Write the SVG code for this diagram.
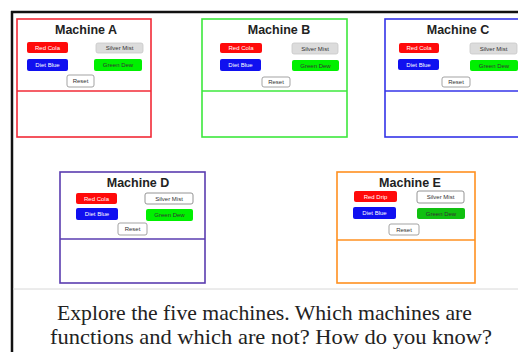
<svg xmlns="http://www.w3.org/2000/svg" width="518" height="352" viewBox="0 0 518 352">
<style>
.frame{fill:none;stroke-width:1.6}
.title{font-family:"Liberation Sans",Arial,sans-serif;font-weight:bold;font-size:12.5px;fill:#222;text-anchor:middle}
.bt{font-family:"Liberation Sans",Arial,sans-serif;font-size:6px;text-anchor:middle;dominant-baseline:central}
.w{fill:#fff}
.d{fill:#333}
.red{fill:#ff0a0a}
.blue{fill:#1010f0}
.green{fill:#00f000}
.dgreen{fill:#10c010}
.silver{fill:#dcdcdc;stroke:#c8c8c8;stroke-width:0.8}
.silverw{fill:#fff;stroke:#888;stroke-width:0.9}
.reset{fill:#fff;stroke:#999;stroke-width:0.9}
.caption{font-family:"Liberation Serif","Times New Roman",serif;font-size:21.5px;fill:#222}
</style>
<rect x="0" y="0" width="518" height="352" fill="#fff"/>
<line x1="11" y1="12" x2="518" y2="12" stroke="#111" stroke-width="2.5"/>
<line x1="12" y1="11" x2="12" y2="352" stroke="#111" stroke-width="2.5"/>
<line x1="13" y1="289" x2="518" y2="289" stroke="#d8d8d8" stroke-width="1"/>

<g id="machineA">
<rect class="frame" x="17" y="19" width="134" height="118" stroke="#f22a36"/>
<line x1="17" y1="91" x2="151" y2="91" stroke="#f22a36" stroke-width="1.6"/>
<text class="title" x="86" y="34">Machine A</text>
<rect class="red" x="27" y="42" width="41" height="11" rx="2"/><text class="bt w" x="47.5" y="47.5">Red Cola</text>
<rect class="blue" x="27" y="59" width="41" height="12" rx="2"/><text class="bt w" x="47.5" y="65">Diet Blue</text>
<rect class="silver" x="96" y="43" width="47" height="10" rx="2"/><text class="bt d" x="119.5" y="48">Silver Mist</text>
<rect class="green" x="94" y="59" width="48" height="12" rx="2"/><text class="bt d" x="118" y="65">Green Dew</text>
<rect class="reset" x="67" y="75" width="27" height="12" rx="2"/><text class="bt d" x="80.5" y="81">Reset</text>
</g>

<g id="machineB">
<rect class="frame" x="202" y="19" width="145" height="118" stroke="#3ce83c"/>
<line x1="202" y1="91" x2="347" y2="91" stroke="#3ce83c" stroke-width="1.6"/>
<text class="title" x="279" y="34">Machine B</text>
<rect class="red" x="220" y="43" width="42" height="10" rx="2"/><text class="bt w" x="241" y="48">Red Cola</text>
<rect class="blue" x="220" y="59" width="41" height="12" rx="2"/><text class="bt w" x="240.5" y="65">Diet Blue</text>
<rect class="silver" x="292" y="43" width="46" height="11" rx="2"/><text class="bt d" x="315" y="48.5">Silver Mist</text>
<rect class="green" x="292" y="60" width="47" height="11" rx="2"/><text class="bt d" x="315.5" y="65.5">Green Dew</text>
<rect class="reset" x="262" y="77" width="28" height="10" rx="2"/><text class="bt d" x="276" y="82">Reset</text>
</g>

<g id="machineC">
<rect class="frame" x="385" y="19" width="145" height="118" stroke="#3434e8"/>
<line x1="385" y1="91" x2="530" y2="91" stroke="#3434e8" stroke-width="1.6"/>
<text class="title" x="458" y="34">Machine C</text>
<rect class="red" x="399" y="43" width="40" height="10" rx="2"/><text class="bt w" x="419" y="48">Red Cola</text>
<rect class="blue" x="398" y="59" width="41" height="11" rx="2"/><text class="bt w" x="418.5" y="64.5">Diet Blue</text>
<rect class="silver" x="470" y="43" width="47" height="11" rx="2"/><text class="bt d" x="493.5" y="48.5">Silver Mist</text>
<rect class="green" x="470" y="60" width="48" height="11" rx="2"/><text class="bt d" x="494" y="65.5">Green Dew</text>
<rect class="reset" x="442" y="77" width="28" height="10" rx="2"/><text class="bt d" x="456" y="82">Reset</text>
</g>

<g id="machineD">
<rect class="frame" x="60" y="172" width="145" height="111" stroke="#5a3cb0"/>
<line x1="60" y1="239" x2="205" y2="239" stroke="#5a3cb0" stroke-width="1.6"/>
<text class="title" x="138" y="187">Machine D</text>
<rect class="red" x="76" y="193" width="41" height="11" rx="2"/><text class="bt w" x="96.5" y="198.5">Red Cola</text>
<rect class="blue" x="76" y="208" width="42" height="12" rx="2"/><text class="bt w" x="97" y="214">Diet Blue</text>
<rect class="silverw" x="145" y="193" width="48" height="11" rx="2"/><text class="bt d" x="169" y="198.5">Silver Mist</text>
<rect class="green" x="146" y="209" width="47" height="12" rx="2"/><text class="bt d" x="169.5" y="215">Green Dew</text>
<rect class="reset" x="118" y="223" width="29" height="12" rx="2"/><text class="bt d" x="132.5" y="229">Reset</text>
</g>

<g id="machineE">
<rect class="frame" x="337" y="172" width="138" height="111" stroke="#ff9020"/>
<line x1="337" y1="240" x2="475" y2="240" stroke="#ff9020" stroke-width="1.6"/>
<text class="title" x="410" y="187">Machine E</text>
<rect class="red" x="354" y="191" width="43" height="11" rx="2"/><text class="bt w" x="375.5" y="196.5">Red Drip</text>
<rect class="blue" x="353" y="207" width="43" height="12" rx="2"/><text class="bt w" x="374.5" y="213">Diet Blue</text>
<rect class="silverw" x="417" y="191" width="47" height="12" rx="2"/><text class="bt d" x="440.5" y="197">Silver Mist</text>
<rect class="dgreen" x="417" y="208" width="48" height="11" rx="2"/><text class="bt d" x="441" y="213.5">Green Dew</text>
<rect class="reset" x="389" y="224" width="30" height="11" rx="2"/><text class="bt d" x="404" y="229.5">Reset</text>
</g>

<text class="caption" x="57" y="320" textLength="415" lengthAdjust="spacingAndGlyphs">Explore the five machines. Which machines are</text>
<text class="caption" x="50" y="344" textLength="442" lengthAdjust="spacingAndGlyphs">functions and which are not? How do you know?</text>
</svg>
